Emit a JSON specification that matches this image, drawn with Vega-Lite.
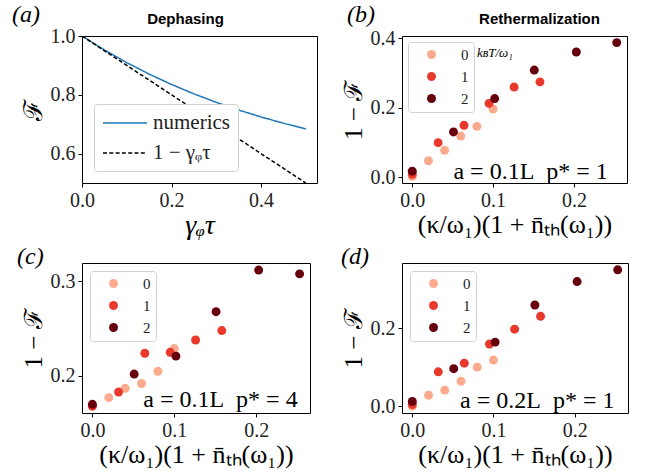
{
  "$schema": "https://vega.github.io/schema/vega-lite/v6.json",
  "padding": {"left": 11, "top": 2, "right": 5, "bottom": 5},
  "background": "white",
  "config": {
    "view": {"stroke": "black", "strokeWidth": 1},
    "font": "Liberation Serif",
    "axis": {"domain": false, "grid": false, "tickColor": "black", "tickSize": 4, "tickWidth": 1,
      "labelFont": "Liberation Serif", "labelFontSize": 20, "labelColor": "#222", "labelPadding": 3,
      "labelFlush": false, "labelOverlap": false,
      "titleFont": "Liberation Serif", "titleFontSize": 24, "titleFontWeight": "normal", "titleColor": "black", "titlePadding": 4},
    "axisX": {"titlePadding": 1, "titleFontSize": 26},
    "legend": {"labelFont": "Liberation Serif", "labelColor": "#222", "strokeColor": "#d0d0d0", "fillColor": "white", "cornerRadius": 3},
    "title": {"font": "Liberation Serif", "fontStyle": "italic", "fontSize": 24, "fontWeight": "normal", "anchor": "start", "frame": "group", "color": "black"}
  },
  "datasets": {
    "a": [
      {"x": 0, "F": 1.0, "series": "numerics"},
      {"x": 0.05, "F": 0.9524, "series": "numerics"},
      {"x": 0.1, "F": 0.9094, "series": "numerics"},
      {"x": 0.15, "F": 0.8704, "series": "numerics"},
      {"x": 0.2, "F": 0.8352, "series": "numerics"},
      {"x": 0.25, "F": 0.8033, "series": "numerics"},
      {"x": 0.3, "F": 0.7744, "series": "numerics"},
      {"x": 0.35, "F": 0.7483, "series": "numerics"},
      {"x": 0.4, "F": 0.7247, "series": "numerics"},
      {"x": 0.45, "F": 0.7033, "series": "numerics"},
      {"x": 0.5, "F": 0.6839, "series": "numerics"},
      {"x": 0, "F": 1.0, "series": "1 − γᵩτ"},
      {"x": 0.5, "F": 0.5, "series": "1 − γᵩτ"}
    ],
    "b": [
      {"k": 0, "v": 0.002, "T": "0"}, {"k": 0.02, "v": 0.047, "T": "0"}, {"k": 0.04, "v": 0.077, "T": "0"},
      {"k": 0.06, "v": 0.118, "T": "0"}, {"k": 0.08, "v": 0.146, "T": "0"}, {"k": 0.1, "v": 0.196, "T": "0"},
      {"k": 0, "v": 0.008, "T": "1"}, {"k": 0.032, "v": 0.099, "T": "1"}, {"k": 0.064, "v": 0.149, "T": "1"},
      {"k": 0.095, "v": 0.212, "T": "1"}, {"k": 0.126, "v": 0.259, "T": "1"}, {"k": 0.158, "v": 0.274, "T": "1"},
      {"k": 0, "v": 0.017, "T": "2"}, {"k": 0.051, "v": 0.130, "T": "2"}, {"k": 0.102, "v": 0.226, "T": "2"},
      {"k": 0.151, "v": 0.308, "T": "2"}, {"k": 0.203, "v": 0.360, "T": "2"}, {"k": 0.253, "v": 0.387, "T": "2"}
    ],
    "c": [
      {"k": 0, "v": 0.168, "T": "0"}, {"k": 0.02, "v": 0.177, "T": "0"}, {"k": 0.04, "v": 0.187, "T": "0"},
      {"k": 0.06, "v": 0.192, "T": "0"}, {"k": 0.08, "v": 0.205, "T": "0"}, {"k": 0.1, "v": 0.229, "T": "0"},
      {"k": 0, "v": 0.168, "T": "1"}, {"k": 0.032, "v": 0.183, "T": "1"}, {"k": 0.064, "v": 0.224, "T": "1"},
      {"k": 0.095, "v": 0.225, "T": "1"}, {"k": 0.126, "v": 0.238, "T": "1"}, {"k": 0.158, "v": 0.248, "T": "1"},
      {"k": 0, "v": 0.170, "T": "2"}, {"k": 0.051, "v": 0.202, "T": "2"}, {"k": 0.102, "v": 0.221, "T": "2"},
      {"k": 0.151, "v": 0.268, "T": "2"}, {"k": 0.203, "v": 0.312, "T": "2"}, {"k": 0.253, "v": 0.308, "T": "2"}
    ],
    "d": [
      {"k": 0, "v": 0.0, "T": "0"}, {"k": 0.02, "v": 0.028, "T": "0"}, {"k": 0.04, "v": 0.041, "T": "0"},
      {"k": 0.06, "v": 0.064, "T": "0"}, {"k": 0.08, "v": 0.100, "T": "0"}, {"k": 0.1, "v": 0.118, "T": "0"},
      {"k": 0, "v": 0.004, "T": "1"}, {"k": 0.032, "v": 0.088, "T": "1"}, {"k": 0.064, "v": 0.110, "T": "1"},
      {"k": 0.095, "v": 0.159, "T": "1"}, {"k": 0.126, "v": 0.197, "T": "1"}, {"k": 0.158, "v": 0.230, "T": "1"},
      {"k": 0, "v": 0.012, "T": "2"}, {"k": 0.051, "v": 0.096, "T": "2"}, {"k": 0.102, "v": 0.164, "T": "2"},
      {"k": 0.151, "v": 0.259, "T": "2"}, {"k": 0.203, "v": 0.319, "T": "2"}, {"k": 0.253, "v": 0.349, "T": "2"}
    ]
  },
  "columns": 2,
  "spacing": {"row": 80, "column": 85},
  "bounds": "flush",
  "resolve": {"scale": {"color": "independent", "strokeDash": "independent"}},
  "concat": [
    {
      "width": 235, "height": 147,
      "title": {"text": "(a)", "dx": -70, "dy": 20},
      "layer": [
        {
          "data": {"name": "a"},
          "mark": {"type": "line", "strokeWidth": 1.5, "clip": true},
          "encoding": {
            "x": {"field": "x", "type": "quantitative", "scale": {"domain": [0, 0.525], "nice": false, "zero": false},
              "axis": {"values": [0, 0.2, 0.4], "format": ".1f", "title": "γᵩτ", "titleFontStyle": "italic", "titleFontSize": 28}},
            "y": {"field": "F", "type": "quantitative", "scale": {"domain": [0.5, 1.0], "nice": false, "zero": false},
              "axis": {"values": [0.6, 0.8, 1.0], "format": ".1f", "title": "ℱ", "titleFontSize": 26}},
            "color": {"field": "series", "type": "nominal", "sort": null,
              "scale": {"domain": ["numerics", "1 − γᵩτ"], "range": ["#1f77b4", "black"]},
              "legend": {"title": null, "orient": "bottom-left", "offset": 12, "symbolType": "M-2.2,0H2.2", "symbolSize": 400,
                "symbolStrokeWidth": 1.5, "labelFontSize": 21, "padding": 8, "rowPadding": 9, "labelOffset": 17, "symbolOffset": 12}},
            "strokeDash": {"field": "series", "type": "nominal", "sort": null,
              "scale": {"domain": ["numerics", "1 − γᵩτ"], "range": [[1, 0], [4, 2.3]]},
              "legend": {"title": null, "orient": "bottom-left", "offset": 12, "symbolType": "M-2.2,0H2.2", "symbolSize": 400,
                "symbolStrokeWidth": 1.5, "labelFontSize": 21, "padding": 8, "rowPadding": 9, "labelOffset": 17, "symbolOffset": 12}}
          }
        },
        {
          "data": {"values": [{}]},
          "mark": {"type": "rule", "opacity": 0},
          "encoding": {
            "x": {"datum": 0, "type": "quantitative", "scale": {"domain": [0, 0.525], "nice": false, "zero": false},
              "axis": {"orient": "top", "title": "Dephasing", "labels": false, "ticks": false, "domain": false,
                "titleFont": "Liberation Sans", "titleFontWeight": "bold", "titleFontSize": 15, "titleFontStyle": "normal",
                "titleX": 103, "titleY": -13, "titleBaseline": "alphabetic", "titleAlign": "center", "titleAngle": 0}}
          }
        }
      ],
      "resolve": {"axis": {"x": "independent"}}
    },
    {
      "width": 225, "height": 147,
      "title": {"text": "(b)", "dx": -55, "dy": 20},
      "layer": [
        {
          "data": {"name": "b"},
          "mark": {"type": "circle", "size": 80, "opacity": 1},
          "encoding": {
            "x": {"field": "k", "type": "quantitative", "scale": {"domain": [-0.0127, 0.2657], "nice": false, "zero": false},
              "axis": {"values": [0, 0.1, 0.2], "format": ".1f", "title": "(κ/ω₁)(1 + n̄ₜₕ(ω₁))"}},
            "y": {"field": "v", "type": "quantitative", "scale": {"domain": [-0.017, 0.406], "nice": false, "zero": false},
              "axis": {"values": [0, 0.2, 0.4], "format": ".1f", "title": "1 − ℱ", "titleFontSize": 25}},
            "color": {"field": "T", "type": "nominal",
              "scale": {"domain": ["0", "1", "2"], "range": ["#fcaa8e", "#e8392c", "#67000d"]},
              "legend": {"title": null, "orient": "top-left", "offset": 6, "symbolType": "circle", "symbolSize": 80, "symbolOpacity": 1,
                "labelFontSize": 15, "padding": 5, "rowPadding": 6, "symbolOffset": 11, "labelOffset": 22}}
          }
        },
        {
          "data": {"values": [{}]},
          "mark": {"type": "text", "align": "right", "baseline": "middle", "fontSize": 24, "font": "Liberation Serif"},
          "encoding": {
            "x": {"datum": 0.242, "type": "quantitative", "axis": null, "scale": {"domain": [-0.0127, 0.2657], "nice": false, "zero": false}},
            "y": {"datum": 0.014, "type": "quantitative"},
            "text": {"value": "a = 0.1L\u00a0 p* = 1"}
          }
        },
        {
          "data": {"values": [{}]},
          "mark": {"type": "text", "align": "left", "baseline": "middle", "fontSize": 13, "font": "Liberation Serif", "fontStyle": "italic"},
          "encoding": {
            "x": {"datum": 0.080, "type": "quantitative", "axis": null, "scale": {"domain": [-0.0127, 0.2657], "nice": false, "zero": false}},
            "y": {"datum": 0.357, "type": "quantitative"},
            "text": {"value": "kʙT/ω₁"}
          }
        },
        {
          "data": {"values": [{}]},
          "mark": {"type": "rule", "opacity": 0},
          "encoding": {
            "x": {"datum": 0, "type": "quantitative", "scale": {"domain": [-0.0127, 0.2657], "nice": false, "zero": false},
              "axis": {"orient": "top", "title": "Rethermalization", "labels": false, "ticks": false, "domain": false,
                "titleFont": "Liberation Sans", "titleFontWeight": "bold", "titleFontSize": 15,
                "titleX": 137, "titleY": -13, "titleBaseline": "alphabetic", "titleAlign": "center", "titleAngle": 0}}
          }
        }
      ],
      "resolve": {"axis": {"x": "independent"}}
    },
    {
      "width": 228, "height": 150,
      "title": {"text": "(c)", "dx": -65, "dy": 10},
      "layer": [
        {
          "data": {"name": "c"},
          "mark": {"type": "circle", "size": 80, "opacity": 1},
          "encoding": {
            "x": {"field": "k", "type": "quantitative", "scale": {"domain": [-0.0127, 0.2657], "nice": false, "zero": false},
              "axis": {"values": [0, 0.1, 0.2], "format": ".1f", "title": "(κ/ω₁)(1 + n̄ₜₕ(ω₁))"}},
            "y": {"field": "v", "type": "quantitative", "scale": {"domain": [0.1608, 0.3195], "nice": false, "zero": false},
              "axis": {"values": [0.2, 0.3], "format": ".1f", "title": "1 − ℱ", "titleFontSize": 25}},
            "color": {"field": "T", "type": "nominal",
              "scale": {"domain": ["0", "1", "2"], "range": ["#fcaa8e", "#e8392c", "#67000d"]},
              "legend": {"title": null, "orient": "top-left", "offset": 8, "symbolType": "circle", "symbolSize": 80, "symbolOpacity": 1,
                "labelFontSize": 15, "padding": 5, "rowPadding": 6, "symbolOffset": 11, "labelOffset": 22}}
          }
        },
        {
          "data": {"values": [{}]},
          "mark": {"type": "text", "align": "right", "baseline": "middle", "fontSize": 24, "font": "Liberation Serif"},
          "encoding": {
            "x": {"datum": 0.2506, "type": "quantitative"},
            "y": {"datum": 0.1747, "type": "quantitative"},
            "text": {"value": "a = 0.1L\u00a0 p* = 4"}
          }
        }
      ]
    },
    {
      "width": 226, "height": 150,
      "title": {"text": "(d)", "dx": -61, "dy": 10},
      "layer": [
        {
          "data": {"name": "d"},
          "mark": {"type": "circle", "size": 80, "opacity": 1},
          "encoding": {
            "x": {"field": "k", "type": "quantitative", "scale": {"domain": [-0.0127, 0.2657], "nice": false, "zero": false},
              "axis": {"values": [0, 0.1, 0.2], "format": ".1f", "title": "(κ/ω₁)(1 + n̄ₜₕ(ω₁))"}},
            "y": {"field": "v", "type": "quantitative", "scale": {"domain": [-0.0175, 0.3665], "nice": false, "zero": false},
              "axis": {"values": [0, 0.2], "format": ".1f", "title": "1 − ℱ", "titleFontSize": 25}},
            "color": {"field": "T", "type": "nominal",
              "scale": {"domain": ["0", "1", "2"], "range": ["#fcaa8e", "#e8392c", "#67000d"]},
              "legend": {"title": null, "orient": "top-left", "offset": 8, "symbolType": "circle", "symbolSize": 80, "symbolOpacity": 1,
                "labelFontSize": 15, "padding": 5, "rowPadding": 6, "symbolOffset": 11, "labelOffset": 22}}
          }
        },
        {
          "data": {"values": [{}]},
          "mark": {"type": "text", "align": "right", "baseline": "middle", "fontSize": 24, "font": "Liberation Serif"},
          "encoding": {
            "x": {"datum": 0.249, "type": "quantitative"},
            "y": {"datum": 0.0129, "type": "quantitative"},
            "text": {"value": "a = 0.2L\u00a0 p* = 1"}
          }
        }
      ]
    }
  ]
}
